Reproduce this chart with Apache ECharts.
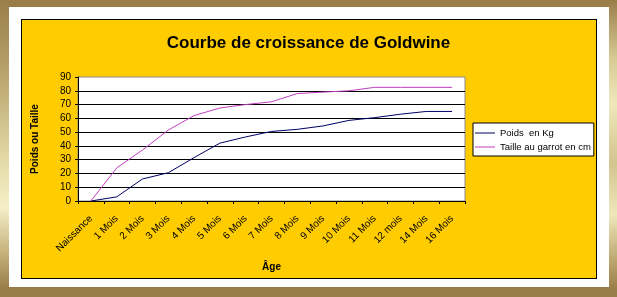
<!DOCTYPE html>
<html>
<head>
<meta charset="utf-8">
<script src="https://cdn.jsdelivr.net/npm/echarts@6/dist/echarts.min.js"></script>
<style>
  html, body { margin: 0; padding: 0; }
  body { width: 617px; height: 297px; position: relative; overflow: hidden; background: #9a7e4a; }
  /* gilded frame strips */
  .side { position: absolute; top: 0; height: 297px; }
  #leftSide { left: 0; width: 9px;
    background: linear-gradient(to bottom, #9a7e4a 0%, #b9a46c 25%, #e6dcaa 55%, #f4efc8 70%, #c6b27c 85%, #9a7e4a 97%); }
  #rightSide { right: 0; width: 8px;
    background: linear-gradient(to bottom, #9a7e4a 0%, #d8cb95 20%, #efe8bc 35%, #d2c48e 55%, #efe8bc 72%, #bba56d 88%, #9a7e4a 97%); }
  #mat { position: absolute; left: 9px; top: 7px; width: 600px; height: 280px; background: #ffffff; }
  #panel { position: absolute; left: 21px; top: 19px; width: 574px; height: 258px;
    background: #ffcc00; border: 1px solid #000; }
  #chart { position: absolute; left: 0; top: 0; width: 617px; height: 297px; }
</style>
</head>
<body>
<div class="side" id="leftSide"></div>
<div class="side" id="rightSide"></div>
<div id="mat"></div>
<div id="panel"></div>
<div id="chart"></div>
<script>
// Age categories along the horizontal axis
const categories = ['Naissance', '1 Mois', '2 Mois', '3 Mois', '4 Mois', '5 Mois', '6 Mois',
  '7 Mois', '8 Mois', '9 Mois', '10 Mois', '11 Mois', '12 mois', '14 Mois', '16 Mois'];

// Weight in kg
const poids = [0, 3, 16, 20.5, 31.5, 42, 46.5, 50.5, 52, 54.5, 58.5, 60.5, 63, 65, 65];

// Height at the withers in cm
const taille = [0, 24, 37, 51.5, 62, 67.5, 70, 72, 78, 79, 80, 82.5, 82.5, 82.5, 82.5];

const seriesNames = ['Poids  en Kg', 'Taille au garrot en cm'];

const FONT = '"Liberation Sans", Arial, sans-serif';

const chart = echarts.init(document.getElementById('chart'), null, { renderer: 'canvas' });

chart.setOption({
  animation: false,
  backgroundColor: 'transparent',
  textStyle: { fontFamily: FONT },
  title: {
    text: 'Courbe de croissance de Goldwine',
    left: 'center',
    top: 30,
    textStyle: { fontFamily: FONT, fontSize: 17, fontWeight: 'bold', color: '#000' }
  },
  legend: {
    orient: 'vertical',
    left: 473,
    top: 123,
    padding: [4, 3, 3, 2],
    itemGap: 2,
    icon: 'rect',
    itemWidth: 20,
    itemHeight: 1,
    itemTextGap: 2,
    backgroundColor: '#ffffff',
    borderColor: '#000000',
    borderWidth: 1,
    borderRadius: 0,
    textStyle: { fontFamily: FONT, fontSize: 9.5, color: '#000', lineHeight: 12 },
    data: seriesNames
  },
  grid: {
    left: 78,
    top: 77,
    right: 152,
    bottom: 96,
    show: true,
    backgroundColor: '#ffffff',
    borderColor: '#8c8c8c',
    borderWidth: 1
  },
  xAxis: {
    type: 'category',
    data: categories,
    boundaryGap: true,
    name: 'Âge',
    nameLocation: 'middle',
    nameGap: 61,
    nameTextStyle: { fontFamily: FONT, fontSize: 10, fontWeight: 'bold', color: '#000' },
    axisLine: { lineStyle: { color: '#000', width: 1 } },
    axisTick: { show: true, interval: 0, length: 3, lineStyle: { color: '#000' } },
    axisLabel: { interval: 0, rotate: 45, margin: 16, fontFamily: FONT, fontSize: 10, color: '#000' },
    splitLine: { show: false }
  },
  yAxis: {
    type: 'value',
    min: 0,
    max: 90,
    interval: 10,
    name: 'Poids ou Taille',
    nameLocation: 'middle',
    nameGap: 38,
    nameRotate: 90,
    nameTextStyle: { fontFamily: FONT, fontSize: 10, fontWeight: 'bold', color: '#000' },
    axisLine: { show: true, lineStyle: { color: '#000', width: 1 } },
    axisTick: { show: true, length: 3, lineStyle: { color: '#000' } },
    axisLabel: { margin: 7, fontFamily: FONT, fontSize: 10, color: '#000' },
    splitLine: { show: true, showMaxLine: false, lineStyle: { color: '#000', width: 1 } }
  },
  series: [
    {
      name: seriesNames[0],
      type: 'line',
      data: poids,
      symbol: 'none',
      lineStyle: { color: '#000066', width: 1 },
      itemStyle: { color: '#000066' }
    },
    {
      name: seriesNames[1],
      type: 'line',
      data: taille,
      symbol: 'none',
      lineStyle: { color: '#c03cc0', width: 1 },
      itemStyle: { color: '#c03cc0' }
    }
  ]
});
</script>
</body>
</html>
